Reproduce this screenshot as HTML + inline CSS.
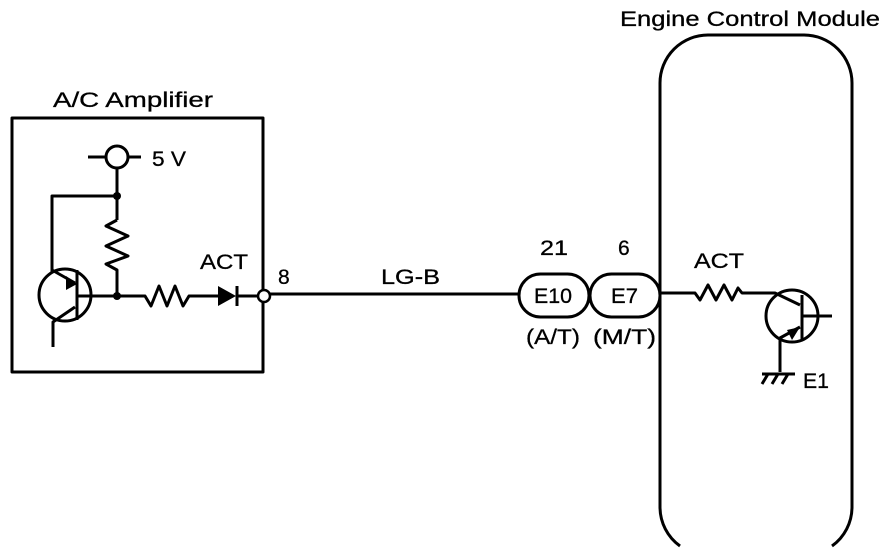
<!DOCTYPE html>
<html><head><meta charset="utf-8"><style>
html,body{margin:0;padding:0;background:#fff;width:896px;height:548px;overflow:hidden;}
svg{display:block;}
text{font-family:"Liberation Sans",sans-serif;fill:#000;stroke:#000;stroke-width:0.3;font-size:21px;}
</style></head><body>
<svg width="896" height="548" viewBox="0 0 896 548" xmlns="http://www.w3.org/2000/svg">
<g fill="none" stroke="#000" stroke-width="3" stroke-linejoin="round">
<rect x="12" y="118" width="251" height="254"/>
<line x1="88" y1="157" x2="141" y2="157"/>
<circle cx="117" cy="157" r="11" fill="#fff"/>
<line x1="117" y1="168" x2="117" y2="220"/>
<polyline points="52,272 52,196 117,196"/>
<polyline points="117,220 106,226 128,236 106,246 128,256 106,264 117,270 117,296"/>
<circle cx="65" cy="295" r="26"/>
<line x1="77" y1="270" x2="77" y2="320"/>
<line x1="77" y1="296" x2="140" y2="296"/>
<line x1="52" y1="270" x2="75" y2="283"/>
<polyline points="75,307 53,322 53,347"/>
<polyline points="140,296 145,296 151,306 159,286 167,306 175,286 183,306 189,296 218,296"/>
<line x1="237" y1="286" x2="237" y2="306"/>
<line x1="237" y1="296" x2="258" y2="296"/>
<line x1="270" y1="294" x2="518" y2="294"/>
<path d="M680,546 A48,48 0 0 1 660,507 L660,83 A48,48 0 0 1 708,35 L804,35 A48,48 0 0 1 852,83 L852,507 A48,48 0 0 1 832,546"/>
<rect x="519" y="274" width="70" height="43" rx="21.5" fill="#fff"/>
<rect x="590" y="274" width="70" height="43" rx="21.5" fill="#fff"/>
<polyline points="660,293 695,293 700,300 708,285 716,300 724,285 732,300 738,288 742,293 775,293 800,305"/>
<circle cx="792" cy="316" r="26"/>
<line x1="802" y1="295" x2="802" y2="340"/>
<line x1="802" y1="316" x2="832" y2="316"/>
<polyline points="800,327 780,338 780,372"/>
<line x1="762" y1="374" x2="795" y2="374"/>
<line x1="768" y1="374" x2="762" y2="384"/>
<line x1="778" y1="374" x2="772" y2="384"/>
<line x1="788" y1="374" x2="782" y2="384"/>
</g>
<circle cx="117" cy="196" r="4"/>
<circle cx="117" cy="296" r="4"/>
<polygon points="66,276 77,284 66,290"/>
<polygon points="218,286 218,306 236,296"/>
<circle cx="264" cy="296" r="6" fill="#fff" stroke="#000" stroke-width="2.5"/>
<polygon points="787,330 800,327 792,340"/>
<text x="53" y="107" textLength="160" lengthAdjust="spacingAndGlyphs">A/C Amplifier</text>
<text x="620" y="26" textLength="260" lengthAdjust="spacingAndGlyphs">Engine Control Module</text>
<text x="152" y="166" textLength="34" lengthAdjust="spacingAndGlyphs">5 V</text>
<text x="200" y="269" textLength="48" lengthAdjust="spacingAndGlyphs">ACT</text>
<text x="278" y="284">8</text>
<text x="381" y="284" textLength="59" lengthAdjust="spacingAndGlyphs">LG-B</text>
<text x="540" y="255" textLength="28" lengthAdjust="spacingAndGlyphs">21</text>
<text x="618" y="255">6</text>
<text x="534" y="303" textLength="38" lengthAdjust="spacingAndGlyphs">E10</text>
<text x="611" y="303" textLength="27" lengthAdjust="spacingAndGlyphs">E7</text>
<text x="526" y="344" textLength="54" lengthAdjust="spacingAndGlyphs">(A/T)</text>
<text x="593" y="344" textLength="63" lengthAdjust="spacingAndGlyphs">(M/T)</text>
<text x="694" y="268" textLength="50" lengthAdjust="spacingAndGlyphs">ACT</text>
<text x="803" y="388" textLength="26" lengthAdjust="spacingAndGlyphs">E1</text>
</svg>
</body></html>
